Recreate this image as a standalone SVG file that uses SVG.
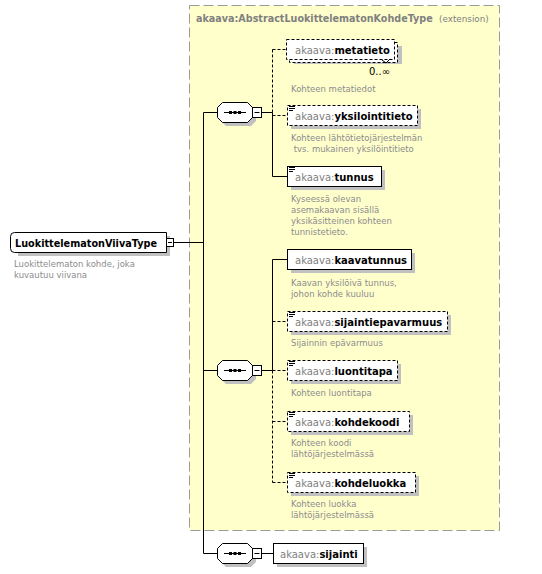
<svg xmlns="http://www.w3.org/2000/svg" width="542" height="574" viewBox="0 0 542 574">
<defs>
<style>
text{font-family:"DejaVu Sans","Liberation Sans",sans-serif}
.lbl{font-size:10px;fill:#000}
.ns{fill:#808080;font-weight:normal}
.nm{font-weight:bold;fill:#000}
.desc{font-size:8.5px;fill:#8c8c8c}
.ttl{fill:#808080}
.sh{fill:#c0c0c0}
.box{fill:#fff;stroke:#000;stroke-width:1}
.opt{stroke-dasharray:3,2}
.ln{fill:none;stroke:#000;stroke-width:1}
.dl{fill:none;stroke:#000;stroke-width:1;stroke-dasharray:3,2}
.ico{stroke:#000;stroke-width:1}
</style>
<g id="seqsym">
<path class="sh" d="M226,106 h25 l5,5 v10 l-5,5 h-25 l-5,-5 v-10 z"/>
<path class="box" d="M222.5,102.5 h25 l5,5 v10 l-5,5 h-25 l-5,-5 v-10 z"/>
<line class="ln" x1="224" y1="112.5" x2="246" y2="112.5"/>
<rect x="229" y="111" width="3" height="3" fill="#000"/>
<rect x="233.5" y="111" width="3" height="3" fill="#000"/>
<rect x="238" y="111" width="3" height="3" fill="#000"/>
<rect class="box" x="252.5" y="107.5" width="9" height="10"/>
<line class="ln" x1="254.5" y1="112.5" x2="259.5" y2="112.5"/>
</g>
<g id="ico3">
<line class="ico" x1="0" y1="0.5" x2="6" y2="0.5"/>
<line class="ico" x1="0" y1="2.5" x2="6" y2="2.5"/>
<line class="ico" x1="0" y1="4.5" x2="4" y2="4.5"/>
</g>
</defs>

<g id="extension">
<rect x="189.5" y="5.5" width="310" height="525" fill="#ffffcc" stroke="#9a9a9a" stroke-dasharray="10,4"/>
<text class="ttl" x="196" y="22" font-size="9.6" font-weight="bold">akaava:AbstractLuokittelematonKohdeType</text>
<text class="ttl" x="439" y="22" font-size="8.8">(extension)</text>
</g>

<g id="connectors">
<line class="ln" x1="174" y1="242.5" x2="203.5" y2="242.5"/>
<line class="ln" x1="203.5" y1="112.5" x2="203.5" y2="553.5"/>
<line class="ln" x1="203.5" y1="112.5" x2="217" y2="112.5"/>
<line class="ln" x1="203.5" y1="370.5" x2="217" y2="370.5"/>
<line class="ln" x1="203.5" y1="553.5" x2="217" y2="553.5"/>
<line class="ln" x1="262" y1="112.5" x2="272.5" y2="112.5"/>
<line class="dl" x1="272.5" y1="49.5" x2="272.5" y2="112.5"/>
<line class="ln" x1="272.5" y1="112.5" x2="272.5" y2="176.5"/>
<line class="dl" x1="272.5" y1="49.5" x2="287" y2="49.5"/>
<line class="dl" x1="272.5" y1="115.5" x2="287" y2="115.5"/>
<line class="ln" x1="272.5" y1="176.5" x2="287" y2="176.5"/>
<line class="ln" x1="262" y1="370.5" x2="272.5" y2="370.5"/>
<line class="ln" x1="272.5" y1="259.5" x2="272.5" y2="370.5"/>
<line class="dl" x1="272.5" y1="370.5" x2="272.5" y2="482.5"/>
<line class="ln" x1="272.5" y1="259.5" x2="287" y2="259.5"/>
<line class="dl" x1="272.5" y1="321.5" x2="287" y2="321.5"/>
<line class="dl" x1="272.5" y1="370.5" x2="287" y2="370.5"/>
<line class="dl" x1="272.5" y1="421.5" x2="287" y2="421.5"/>
<line class="dl" x1="272.5" y1="482.5" x2="287" y2="482.5"/>
<line class="ln" x1="262" y1="553.5" x2="273" y2="553.5"/>
</g>

<g id="root">
<path class="sh" d="M18,236 h152 v20 h-152 z"/>
<path class="box" d="M14.5,232.5 h152 v20 h-152 q-4,0 -4,-4 v-12 q0,-4 4,-4 z"/>
<text x="15" y="246.5" textLength="142" lengthAdjust="spacingAndGlyphs" style="font-size:10.5px;font-weight:bold">LuokittelematonViivaType</text>
<rect class="box" x="166.5" y="238.5" width="7" height="8"/>
<line class="ln" x1="168" y1="242.5" x2="172" y2="242.5"/>
<text class="desc" x="14" y="267">Luokittelematon kohde, joka</text>
<text class="desc" x="14" y="278">kuvautuu viivana</text>
</g>

<g id="seq1"><use href="#seqsym"/></g>
<g id="seq2"><use href="#seqsym" y="258"/></g>
<g id="seq3"><use href="#seqsym" y="441"/></g>

<g id="metatieto">
<rect class="sh" x="294" y="46" width="108" height="18"/>
<rect class="box opt" x="289.5" y="42.5" width="108" height="20"/>
<rect class="box opt" x="286.5" y="39.5" width="108" height="20"/>
<text class="lbl" x="295" y="53.5"><tspan class="ns">akaava:</tspan><tspan class="nm">metatieto</tspan></text>
<path class="ln" d="M382,60 l4,3 l4,-4"/>
<text x="369" y="75" style="font-size:10px">0..∞</text>
<text class="desc" x="291" y="92">Kohteen metatiedot</text>
</g>

<g id="yksilointitieto">
<rect class="sh" x="291" y="109" width="130" height="20"/>
<rect class="box opt" x="287.5" y="105.5" width="130" height="20"/>
<use href="#ico3" x="289" y="106"/>
<text class="lbl" x="295" y="119.5"><tspan class="ns">akaava:</tspan><tspan class="nm">yksilointitieto</tspan></text>
<text class="desc" x="291" y="141">Kohteen lähtötietojärjestelmän</text>
<text class="desc" x="291" y="152">&#160;tvs. mukainen yksilöintitieto</text>
</g>

<g id="tunnus">
<rect class="sh" x="291" y="170" width="94" height="20"/>
<rect class="box" x="287.5" y="166.5" width="94" height="20"/>
<use href="#ico3" x="289" y="167"/>
<text class="lbl" x="295" y="180.5"><tspan class="ns">akaava:</tspan><tspan class="nm">tunnus</tspan></text>
<text class="desc" x="291" y="202">Kyseessä olevan</text>
<text class="desc" x="291" y="213">asemakaavan sisällä</text>
<text class="desc" x="291" y="224">yksikäsitteinen kohteen</text>
<text class="desc" x="291" y="235">tunnistetieto.</text>
</g>

<g id="kaavatunnus">
<rect class="sh" x="291" y="253" width="124" height="20"/>
<rect class="box" x="287.5" y="249.5" width="124" height="20"/>
<text class="lbl" x="295" y="263.5"><tspan class="ns">akaava:</tspan><tspan class="nm">kaavatunnus</tspan></text>
<text class="desc" x="291" y="286">Kaavan yksilöivä tunnus,</text>
<text class="desc" x="291" y="297">johon kohde kuuluu</text>
</g>

<g id="sijaintiepavarmuus">
<rect class="sh" x="291" y="315" width="160" height="20"/>
<rect class="box opt" x="287.5" y="311.5" width="160" height="20"/>
<use href="#ico3" x="289" y="312"/>
<text class="lbl" x="295" y="325.5"><tspan class="ns">akaava:</tspan><tspan class="nm">sijaintiepavarmuus</tspan></text>
<text class="desc" x="291" y="346">Sijainnin epävarmuus</text>
</g>

<g id="luontitapa">
<rect class="sh" x="291" y="364" width="110" height="20"/>
<rect class="box opt" x="287.5" y="360.5" width="110" height="20"/>
<use href="#ico3" x="289" y="361"/>
<text class="lbl" x="295" y="374.5"><tspan class="ns">akaava:</tspan><tspan class="nm">luontitapa</tspan></text>
<text class="desc" x="291" y="396">Kohteen luontitapa</text>
</g>

<g id="kohdekoodi">
<rect class="sh" x="291" y="415" width="122" height="20"/>
<rect class="box opt" x="287.5" y="411.5" width="122" height="20"/>
<use href="#ico3" x="289" y="412"/>
<text class="lbl" x="295" y="425.5"><tspan class="ns">akaava:</tspan><tspan class="nm">kohdekoodi</tspan></text>
<text class="desc" x="291" y="446">Kohteen koodi</text>
<text class="desc" x="291" y="457">lähtöjärjestelmässä</text>
</g>

<g id="kohdeluokka">
<rect class="sh" x="291" y="476" width="128" height="20"/>
<rect class="box opt" x="287.5" y="472.5" width="128" height="20"/>
<use href="#ico3" x="289" y="473"/>
<text class="lbl" x="295" y="486.5"><tspan class="ns">akaava:</tspan><tspan class="nm">kohdeluokka</tspan></text>
<text class="desc" x="291" y="507">Kohteen luokka</text>
<text class="desc" x="291" y="518">lähtöjärjestelmässä</text>
</g>

<g id="sijainti">
<rect class="sh" x="277" y="547" width="90" height="20"/>
<rect class="box" x="273.5" y="543.5" width="90" height="20"/>
<text class="lbl" x="280" y="557.5"><tspan class="ns">akaava:</tspan><tspan class="nm">sijainti</tspan></text>
</g>
</svg>
